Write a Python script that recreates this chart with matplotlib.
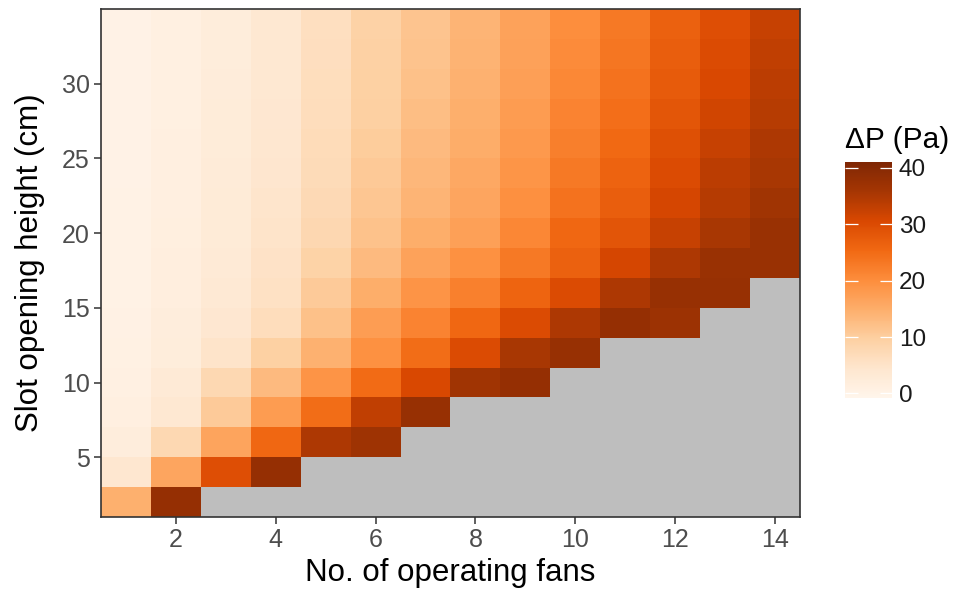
import matplotlib
matplotlib.use("Agg")
import matplotlib.pyplot as plt
import numpy as np

plt.rcParams['font.family'] = ['Liberation Sans', 'DejaVu Sans']

nan = np.nan

# число вентиляторов и высота щели (центры ячеек)
fans = [1, 2, 3, 4, 5, 6, 7, 8, 9, 10, 11, 12, 13, 14]
heights = [2, 4, 6, 8, 10, 12, 14, 16, 18, 20, 22, 24, 26, 28, 30, 32, 34]

# перепад давления, Па (строки - высота снизу вверх, столбцы - вентиляторы)
dp_h2 = [14.7, 38, nan, nan, nan, nan, nan, nan, nan, nan, nan, nan, nan, nan]
dp_h4 = [4.2, 16.2, 29.5, 38, nan, nan, nan, nan, nan, nan, nan, nan, nan, nan]
dp_h6 = [2.0, 7.7, 16.5, 25.5, 35, 36.8, nan, nan, nan, nan, nan, nan, nan, nan]
dp_h8 = [1.2, 3.7, 10.5, 17.7, 24.7, 33, 37.7, nan, nan, nan, nan, nan, nan, nan]
dp_h10 = [0.9, 3.0, 7.7, 13, 19, 25, 30.5, 36.5, 38, nan, nan, nan, nan, nan]
dp_h12 = [0.8, 2.2, 5.0, 9.5, 14.5, 19.5, 24.7, 30, 35.5, 37.7, nan, nan, nan, nan]
dp_h14 = [0.6, 1.9, 4.0, 6.7, 12, 17.5, 21.5, 25.5, 30, 35, 38, 37, nan, nan]
dp_h16 = [0.5, 1.6, 3.3, 5.7, 10.5, 15, 19, 22, 26, 30, 35, 37.7, 37.7, nan]
dp_h18 = [0.5, 1.5, 3.0, 5.3, 9.0, 13, 16.7, 19.5, 23, 26.5, 31, 35, 37.5, 37.5]
dp_h20 = [0.4, 1.4, 2.9, 5.0, 8.0, 11.9, 15, 17, 21, 25.5, 28.5, 32.5, 35.5, 37.5]
dp_h22 = [0.4, 1.3, 2.8, 4.7, 7.5, 11.2, 14, 16.3, 19.7, 24, 27, 31, 34.3, 36.5]
dp_h24 = [0.3, 1.2, 2.7, 4.4, 7.2, 10.7, 13.5, 15.7, 18.8, 23, 26.2, 30, 33.5, 35.5]
dp_h26 = [0.3, 1.2, 2.6, 4.2, 6.9, 10.2, 13, 15.2, 18.2, 22.2, 25.3, 29.3, 32.5, 35]
dp_h28 = [0.3, 1.1, 2.5, 4.0, 6.7, 9.8, 12.5, 14.8, 17.7, 21.5, 24.6, 28.3, 31.5, 34]
dp_h30 = [0.2, 1.1, 2.4, 3.9, 6.5, 9.6, 12, 14.5, 17.2, 20.8, 24, 27.6, 30.5, 33.5]
dp_h32 = [0.2, 1.0, 2.3, 3.8, 6.3, 9.4, 11.7, 14.2, 16.9, 20.3, 23.5, 27, 30, 33]
dp_h34 = [0.2, 1.0, 2.2, 3.7, 6.2, 9.3, 11.5, 14, 16.7, 20, 23, 26.5, 29.5, 32.5]

dp = np.array([dp_h2, dp_h4, dp_h6, dp_h8, dp_h10, dp_h12, dp_h14, dp_h16,
               dp_h18, dp_h20, dp_h22, dp_h24, dp_h26, dp_h28, dp_h30,
               dp_h32, dp_h34])
dp = np.ma.masked_invalid(dp)

x_ticks = [2, 4, 6, 8, 10, 12, 14]
y_ticks = [5, 10, 15, 20, 25, 30]
cb_ticks = [0, 10, 20, 30, 40]

cmap = plt.get_cmap('Oranges').copy()
cmap.set_bad('#bebebe')

fig = plt.figure(figsize=(9.56, 5.94), dpi=100)
ax = fig.add_axes([101 / 956, 1 - 517 / 594, 699 / 956, 508 / 594])

mesh = ax.pcolormesh(fans, heights, dp, shading='nearest', cmap=cmap,
                     vmin=-0.8, vmax=41)
ax.set_xlim(0.5, 14.5)
ax.set_ylim(1, 35)
ax.set_facecolor('#bebebe')

ax.set_xticks(x_ticks)
ax.set_yticks(y_ticks)
ax.tick_params(labelsize=18, labelcolor='#4d4d4d', color='#333333',
               length=5, width=1.1, pad=3)
for s in ax.spines.values():
    s.set_color('#333333')
    s.set_linewidth(1.2)

ax.set_xlabel('No. of operating fans', fontsize=22.5, labelpad=4)
ax.set_ylabel('Slot opening height (cm)', fontsize=22.5, labelpad=12)

# шкала цвета
cax = fig.add_axes([845 / 956, 1 - 398 / 594, 47 / 956, 236 / 594])
cb = fig.colorbar(mesh, cax=cax, ticks=cb_ticks)
cb.outline.set_visible(False)
cax.tick_params(direction='in', color='white', length=9, width=0.9,
                left=True, right=True, labelsize=17.5, labelcolor='#1a1a1a',
                pad=5)
fig.text(845 / 956, 1 - 140 / 594, 'ΔP (Pa)', fontsize=21.5,
         ha='left', va='center')

plt.savefig('out.png', dpi=100)
